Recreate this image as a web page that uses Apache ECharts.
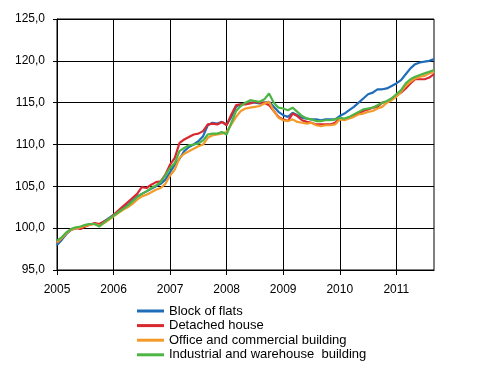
<!DOCTYPE html>
<html>
<head>
<meta charset="utf-8">
<script src="https://cdn.jsdelivr.net/npm/echarts@6/dist/echarts.min.js"></script>
<style>html,body{margin:0;padding:0;background:#fff}#c{width:496px;height:370px}</style>
</head>
<body>
<div id="c"></div>
<script>
// Months 2005M01 .. 2011M09
const months = [];
for (let y = 2005; y <= 2011; y++) for (let m = 1; m <= 12; m++) { if (y === 2011 && m > 9) break; months.push(y + 'M' + String(m).padStart(2, '0')); }

const seriesNames = ['Block of flats', 'Detached house', 'Office and commercial building', 'Industrial and warehouse  building'];

const blockOfFlats = [
  98.0, 98.6, 99.3, 99.8, 100.0, 100.1, 100.3, 100.5, 100.5, 100.4, 100.8, 101.2,
  101.6, 102.0, 102.4, 102.8, 103.3, 103.8, 104.1, 104.4, 104.7, 105.0, 105.3, 105.8,
  106.7, 107.6, 108.3, 109.2, 109.7, 110.0, 110.4, 111.0, 112.3, 112.6, 112.5, 112.7,
  112.4, 113.3, 114.5, 114.8, 114.9, 115.0, 115.0, 114.9, 115.0, 115.1, 114.5, 113.9,
  113.5, 113.3, 113.8, 113.5, 113.2, 113.1, 113.0, 113.0, 112.9, 113.0, 113.0, 113.0,
  113.4, 113.7, 114.1, 114.5, 115.0, 115.5, 116.0, 116.2, 116.6, 116.6, 116.7, 117.0,
  117.3, 117.7, 118.4, 119.1, 119.6, 119.8, 119.9, 120.0, 120.2
];
const detachedHouse = [
  98.3, 98.8, 99.4, 99.9, 100.0, 99.9, 100.2, 100.4, 100.6, 100.5, 100.8, 101.1,
  101.6, 102.1, 102.6, 103.1, 103.6, 104.1, 104.9, 104.8, 105.2, 105.5, 105.6, 106.4,
  107.6, 108.4, 110.2, 110.6, 110.9, 111.2, 111.3, 111.6, 112.4, 112.5, 112.4, 112.7,
  112.3, 113.6, 114.7, 114.8, 114.8, 114.9, 115.1, 115.0, 115.0, 114.7, 114.0, 113.3,
  113.0, 112.8, 113.7, 113.4, 112.9, 112.7, 112.6, 112.4, 112.4, 112.4, 112.4, 112.6,
  113.1, 113.0, 113.2, 113.4, 113.7, 114.0, 114.2, 114.4, 114.5, 115.0, 115.1, 115.5,
  115.8, 116.2, 116.7, 117.3, 117.8, 117.8, 117.8, 118.0, 118.4
];
const officeCommercial = [
  98.3, 98.8, 99.4, 99.8, 100.0, 100.1, 100.3, 100.4, 100.5, 100.3, 100.6, 101.0,
  101.4, 101.8, 102.2, 102.5, 102.9, 103.4, 103.8, 104.0, 104.3, 104.6, 104.8, 105.3,
  106.3, 107.0, 108.4, 108.9, 109.2, 109.5, 109.8, 110.0, 110.8, 111.1, 111.2, 111.3,
  111.5, 112.4, 113.3, 114.0, 114.3, 114.4, 114.5, 114.6, 114.9, 115.1, 114.0, 113.2,
  112.9, 112.8, 113.0, 112.7, 112.6, 112.5, 112.6, 112.3, 112.2, 112.3, 112.3, 112.4,
  113.0, 112.9, 113.1, 113.3, 113.6, 113.7, 113.9, 114.0, 114.3, 114.5, 115.0, 115.3,
  115.7, 116.3, 117.0, 117.5, 117.9, 118.1, 118.2, 118.5, 118.7
];
const industrialWarehouse = [
  98.5, 98.9, 99.5, 99.9, 100.1, 100.2, 100.4, 100.5, 100.5, 100.2, 100.7, 101.1,
  101.5, 101.9, 102.3, 102.7, 103.2, 103.7, 104.1, 104.4, 104.8, 105.1, 105.5, 106.3,
  107.2, 107.8, 109.2, 109.6, 109.9, 110.0, 110.1, 110.5, 111.2, 111.3, 111.3, 111.5,
  111.2, 112.6, 114.0, 114.6, 115.0, 115.3, 115.2, 115.1, 115.4, 116.1, 115.0, 114.4,
  114.3, 114.1, 114.4, 113.9, 113.4, 113.1, 113.0, 112.8, 112.8, 112.9, 112.9, 113.0,
  113.2, 113.1, 113.3, 113.6, 113.9, 114.2, 114.3, 114.4, 114.7, 115.0, 115.2, 115.5,
  116.0, 116.5, 117.3, 117.8, 118.1, 118.3, 118.5, 118.7, 118.9
];

const yTicks = { min: 95, max: 125, step: 5 };
const colors = ['#1f6db8', '#d9282f', '#f39a2b', '#4cb544'];
const values = [blockOfFlats, detachedHouse, officeCommercial, industrialWarehouse];

const chart = echarts.init(document.getElementById('c'), null, { renderer: 'canvas' });
const font = 'Liberation Sans, Arial, sans-serif';
const yearTick = (i) => i % 12 === 0;

chart.setOption({
  animation: false,
  color: colors,
  textStyle: { fontFamily: font },
  grid: { left: 57, right: 62, top: 19, bottom: 100, show: true, borderColor: '#000', borderWidth: 1, backgroundColor: 'transparent' },
  legend: {
    orient: 'vertical', left: 137, top: 304, width: 300, height: 66,
    padding: 0,
    icon: 'rect', itemWidth: 27, itemHeight: 3, itemGap: 0.6,
    textStyle: { fontFamily: font, fontSize: 13, color: '#000', lineHeight: 14 },
    data: seriesNames
  },
  xAxis: {
    type: 'category', data: months, boundaryGap: false,
    axisLine: { lineStyle: { color: '#000', width: 1 } },
    axisTick: { interval: (i) => yearTick(i), length: 5, lineStyle: { color: '#000' } },
    axisLabel: { interval: (i) => yearTick(i), formatter: (v) => v.slice(0, 4), color: '#000', fontSize: 12, margin: 14, fontFamily: font },
    splitLine: { show: true, interval: (i) => yearTick(i), lineStyle: { color: '#000', width: 1 } }
  },
  yAxis: {
    type: 'value', min: yTicks.min, max: yTicks.max, interval: yTicks.step,
    axisLine: { show: true, lineStyle: { color: '#000', width: 1 } },
    axisTick: { show: true, length: 4, lineStyle: { color: '#000' } },
    axisLabel: { formatter: (v) => v.toFixed(1).replace('.', ','), color: '#000', fontSize: 12, margin: 12, fontFamily: font },
    splitLine: { show: true, lineStyle: { color: '#000', width: 1 } }
  },
  series: seriesNames.map((n, k) => ({
    name: n, type: 'line', data: values[k], symbol: 'none', showSymbol: false,
    lineStyle: { width: 2.2, color: colors[k] }, itemStyle: { color: colors[k] }
  }))
});
</script>
</body>
</html>
